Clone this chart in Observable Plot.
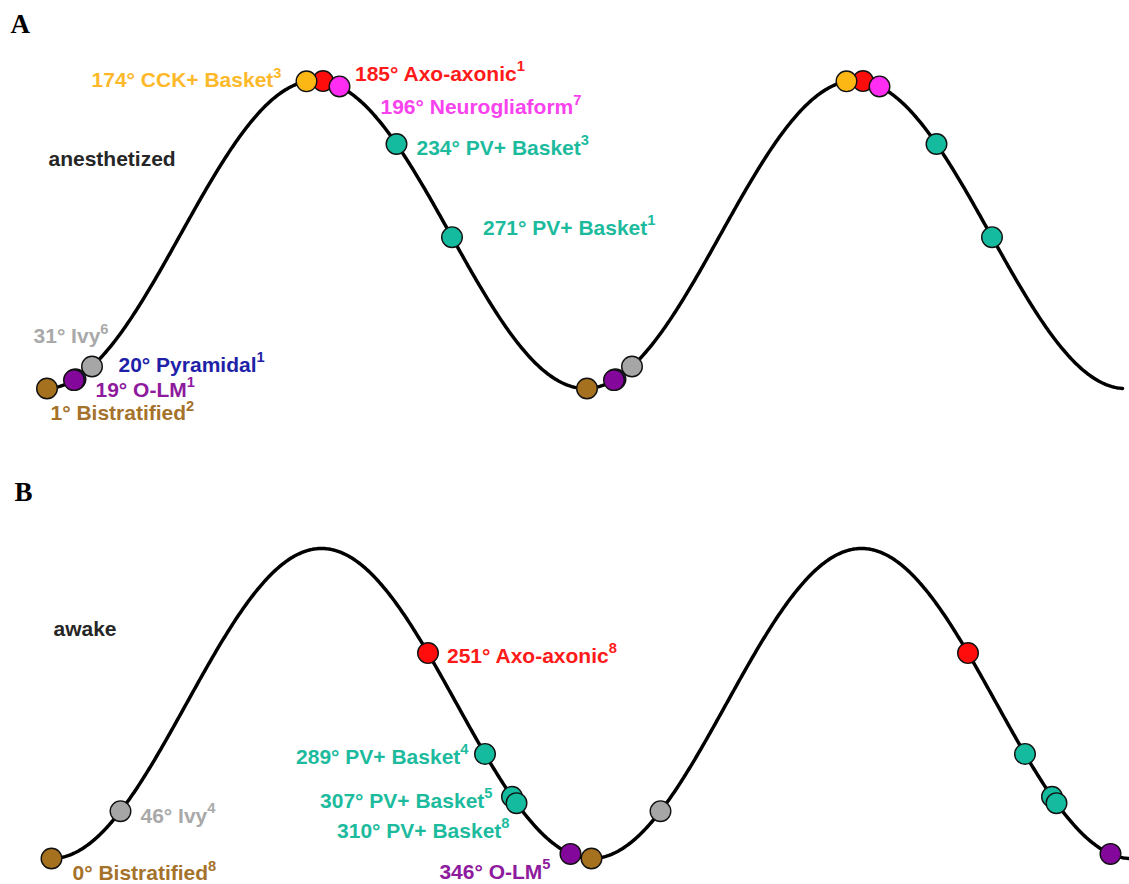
<!DOCTYPE html>
<html><head><meta charset="utf-8">
<script src="https://cdn.jsdelivr.net/npm/d3@7"></script>
<script src="https://cdn.jsdelivr.net/npm/@observablehq/plot@0.6"></script>
<style>
html,body{margin:0;padding:0;background:#fff;}
#chart svg{display:block;}
</style></head><body><div id="chart"></div>
<script>
// ---- Data: preferred theta phase (degrees) of each cell type ----
// Panel A: anesthetized
const phasesA = [20, 1, 19, 31, 185, 174, 196, 234, 271];
const typesA  = ["Pyramidal", "Bistratified", "O-LM", "Ivy", "Axo-axonic", "CCK+ Basket", "Neurogliaform", "PV+ Basket", "PV+ Basket"];
const refsA   = [1, 2, 1, 6, 1, 3, 7, 3, 1];
// Panel B: awake
const phasesB = [0, 46, 251, 289, 307, 310, 346];
const typesB  = ["Bistratified", "Ivy", "Axo-axonic", "PV+ Basket", "PV+ Basket", "PV+ Basket", "O-LM"];
const refsB   = [8, 4, 8, 4, 5, 8, 5];

// ---- Styles / layout ----
const typeColor = {
  "Pyramidal": "#1f1fa8", "Bistratified": "#a5711f", "O-LM": "#84079c", "Ivy": "#a6a6a6",
  "Axo-axonic": "#ff0d0d", "CCK+ Basket": "#fdb714", "Neurogliaform": "#ff2cf2", "PV+ Basket": "#14bb9e"
};
const textColor = {
  "Pyramidal": "#1f1fa8", "Bistratified": "#a5722b", "O-LM": "#8e1a9d", "Ivy": "#a9a9a9",
  "Axo-axonic": "#ff1a1a", "CCK+ Basket": "#fdb92a", "Neurogliaform": "#f742ee", "PV+ Basket": "#1dbb9e"
};
// label offsets (px) relative to each first-cycle dot
const placeA = [
  {anchor:"start", dx:43, dy:-14}, {anchor:"start", dx:3.5, dy:25}, {anchor:"start", dx:21.5, dy:10},
  {anchor:"end", dx:16.5, dy:-30}, {anchor:"start", dx:32, dy:-7}, {anchor:"end", dx:-25, dy:-1},
  {anchor:"start", dx:41, dy:21}, {anchor:"start", dx:20, dy:4}, {anchor:"start", dx:31, dy:-9}
];
const placeB = [
  {anchor:"start", dx:21, dy:15}, {anchor:"start", dx:20, dy:5}, {anchor:"start", dx:19, dy:3},
  {anchor:"end", dx:-16.5, dy:3}, {anchor:"end", dx:-19.5, dy:4}, {anchor:"end", dx:-7, dy:28},
  {anchor:"end", dx:-20, dy:18}
];
const SANS = "Liberation Sans, Arial, Helvetica, sans-serif";
const SERIF = "Liberation Serif, Times New Roman, serif";
const deg = Math.PI / 180;

function panel(cfg) {
  const pts = cfg.phases.map((p, i) => ({phase: p, type: cfg.types[i], ref: cfg.refs[i], place: cfg.place[i]}));
  const dots = [...pts.map(d => ({...d, x: d.phase})), ...pts.map(d => ({...d, x: d.phase + 360}))]
    .filter(d => d.x <= 720)
    .map(d => ({...d, v: -Math.cos(d.x * deg)}));
  // reference theta cycle (two cycles of the oscillation)
  const wave = d3.range(0, 718.01, 1).map(x => ({x, v: -Math.cos(x * deg)}));
  const labels = pts.map(d => Plot.text([d], {
    x: "phase", y: q => -Math.cos(q.phase * deg),
    text: q => `${q.phase}° ${q.type}^${q.ref}`,
    fill: textColor[d.type], textAnchor: d.place.anchor, lineAnchor: "middle",
    dx: d.place.dx, dy: d.place.dy, fontSize: 21, fontWeight: "bold", fontFamily: SANS
  }));
  const svg = Plot.plot({
    width: 1129, height: 442, margin: 0,
    x: {domain: [0, 720], range: cfg.xRange, axis: null},
    y: {domain: [-1, 1], range: cfg.yRange, axis: null},
    marks: [
      Plot.line(wave, {x: "x", y: "v", stroke: "#000", strokeWidth: 3.5}),
      Plot.dot(dots, {x: "x", y: "v", r: 10.3, fill: d => typeColor[d.type], stroke: "#111", strokeWidth: 1.4}),
      ...labels,
      Plot.text([cfg.state], {frameAnchor: "top-left", dx: cfg.stateX, dy: cfg.stateY, textAnchor: "start", lineAnchor: "middle",
        fontSize: 21, fontWeight: "bold", fontFamily: SANS, fill: "#262626"}),
      Plot.text([cfg.letter], {frameAnchor: "top-left", dx: cfg.letterX, dy: cfg.letterY, textAnchor: "start", lineAnchor: "middle",
        fontSize: 27, fontWeight: "bold", fontFamily: SERIF, fill: "#000"})
    ]
  });
  // render reference numbers as superscripts
  d3.select(svg).selectAll("text").each(function () {
    const t = this.textContent, i = t.indexOf("^");
    if (i < 0) return;
    const el = d3.select(this);
    el.text(null);
    el.append("tspan").text(t.slice(0, i));
    el.append("tspan").attr("font-size", "0.7em").attr("dy", "-0.65em").text(t.slice(i + 1));
  });
  return svg;
}

const chart = document.getElementById("chart");
chart.append(panel({phases: phasesA, types: typesA, refs: refsA, place: placeA,
  xRange: [45, 1125], yRange: [388, 80], state: "anesthetized", stateX: 48, stateY: 159,
  letter: "A", letterX: 10, letterY: 24}));
chart.append(panel({phases: phasesB, types: typesB, refs: refsB, place: placeB,
  xRange: [51, 1131], yRange: [416, 106], state: "awake", stateX: 53, stateY: 187,
  letter: "B", letterX: 14, letterY: 50}));
</script></body></html>
